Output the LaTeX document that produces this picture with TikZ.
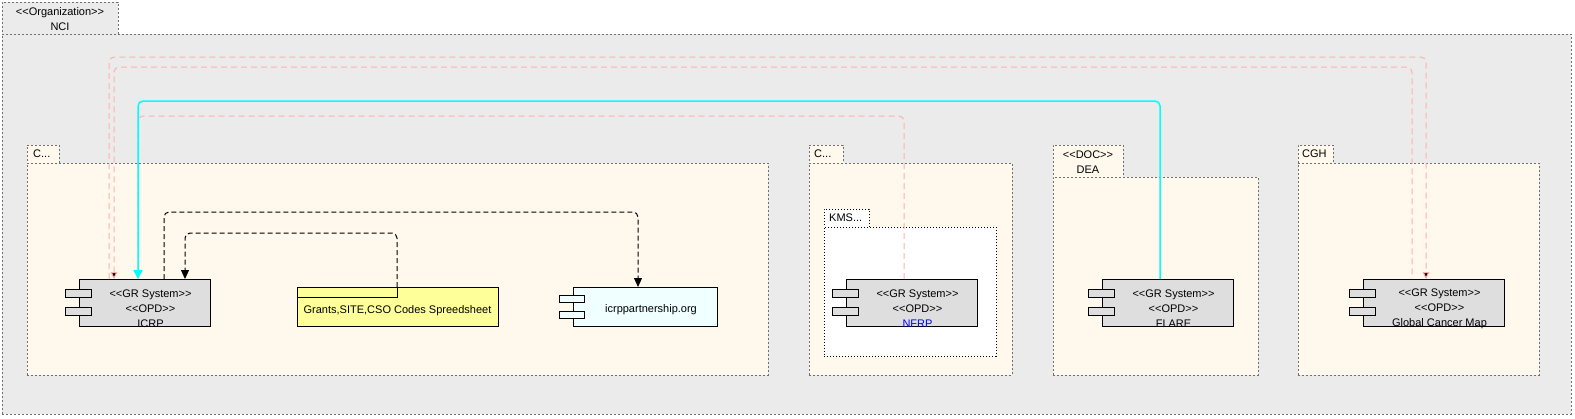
\documentclass[tikz,border=0pt]{standalone}
\usepackage{fontspec}
\setmainfont{Liberation Sans}
\usetikzlibrary{arrows.meta,calc}
\definecolor{ncigray}{HTML}{EBEBEB}
\definecolor{cream}{HTML}{FEF9EC}
\definecolor{dotgray}{HTML}{707070}
\definecolor{compgray}{HTML}{DEDEDE}
\definecolor{pinkl}{HTML}{FFB0B0}
\definecolor{artyellow}{HTML}{FFFF99}
\definecolor{lightcyan}{HTML}{F0FFFF}
\definecolor{aqua}{HTML}{00FFFF}
\newcommand\stereo[1]{<\kern0pt<#1>\kern0pt>}
\newcommand\mycomp[7]{%
  \node[compbody, fill=#7, minimum width=#4pt, minimum height=#5pt] (#1) at (#2,#3) {};
  \node[compbody, fill=#7, minimum width=26pt, minimum height=8.5pt] (#1a) at ($(#1.north west)+(-14,10)$) {};
  \node[compbody, fill=#7, minimum width=26pt, minimum height=8.5pt] (#1b) at ($(#1.north west)+(-14,28)$) {};
  \node[comptext] (#1t) at ($(#1.north west)!0.5!(#1.north east)+(6,30)$) {#6};
}
\tikzset{
  pkg/.style={draw=dotgray, fill=#1, line width=0.9pt, dash pattern=on 2pt off 2pt,
    inner sep=0pt, outer sep=0pt, anchor=north west},
  kmspkg/.style={draw=black, fill=white, line width=1pt, dash pattern=on 1.2pt off 1.8pt,
    inner sep=0pt, outer sep=0pt, anchor=north west},
  compbody/.style={draw=black, line width=1pt, inner sep=0pt, outer sep=0pt, anchor=north west},
  comptext/.style={align=center, inner sep=0pt, font=\fontsize{11}{15}\selectfont},
  tabtext/.style={anchor=west, inner sep=0pt, font=\fontsize{11}{15}\selectfont},
  pinkline/.style={draw=pinkl, line width=1pt, dash pattern=on 6pt off 4pt, rounded corners=5pt},
  pinktip/.tip={Triangle[width=7pt,length=7pt,fill=black]},
  blacktip/.tip={Triangle[width=8pt,length=9pt,fill=black]},
  cyantip/.tip={Triangle[width=9pt,length=9pt,fill=aqua]},
  cyanline/.style={draw=aqua, line width=1.5pt, rounded corners=5pt},
  depline/.style={draw=black, line width=1pt, dash pattern=on 5pt off 3pt, rounded corners=5pt},
}
\begin{document}
\begin{tikzpicture}[x=1pt,y=-1pt]
\useasboundingbox (0,0) rectangle (1575,418);
% NCI
\node[pkg=ncigray, minimum width=116pt, minimum height=32pt] (ncitab) at (2,2) {};
\node[comptext] (ncitext) at ($(ncitab.center)+(0,1)$) {\stereo{Organization}\\NCI};
\node[pkg=ncigray, minimum width=1569pt, minimum height=380pt] (nci) at (2,34) {};
% C... (1)
\node[pkg=cream, minimum width=32pt, minimum height=18pt] (c1tab) at (27,145) {};
\node[tabtext] (c1text) at ($(c1tab.west)+(6,0)$) {C...};
\node[pkg=cream, minimum width=741pt, minimum height=212pt] (c1) at (27,163) {};
% C... (2)
\node[pkg=cream, minimum width=34pt, minimum height=18pt] (c2tab) at (809,145) {};
\node[tabtext] (c2text) at ($(c2tab.west)+(5,0)$) {C...};
\node[pkg=cream, minimum width=203pt, minimum height=212pt] (c2) at (809,163) {};
% KMS
\node[kmspkg, minimum width=45pt, minimum height=18pt] (kmstab) at (824,209) {};
\node[tabtext] (kmstext) at ($(kmstab.west)+(5,0)$) {KMS...};
\node[kmspkg, minimum width=172pt, minimum height=129pt] (kms) at (824,227) {};
% DEA
\node[pkg=cream, minimum width=70pt, minimum height=32pt] (deatab) at (1053,145) {};
\node[comptext] (deatext) at ($(deatab.center)+(0,1)$) {\stereo{DOC}\\DEA};
\node[pkg=cream, minimum width=205pt, minimum height=198pt] (dea) at (1053,177) {};
% CGH
\node[pkg=cream, minimum width=35pt, minimum height=18pt] (cghtab) at (1298,145) {};
\node[tabtext] (cghtext) at ($(cghtab.west)+(4,0)$) {CGH};
\node[pkg=cream, minimum width=241pt, minimum height=212pt] (cgh) at (1298,163) {};
% components
\mycomp{icrp}{79}{279}{131}{47}{\stereo{GR System}\\\stereo{OPD}\\ICRP}{compgray}
\mycomp{nfrp}{846}{279}{131}{47}{\stereo{GR System}\\\stereo{OPD}\\\textcolor{blue}{NFRP}}{compgray}
\mycomp{flare}{1102}{279}{131}{47}{\stereo{GR System}\\\stereo{OPD}\\FLARE}{compgray}
\mycomp{gcm}{1363}{279}{141}{47}{\stereo{GR System}\\\stereo{OPD}\\Global Cancer Map}{compgray}
% icrppartnership
\node[compbody, fill=lightcyan, minimum width=144pt, minimum height=39pt] (icrpp) at (573,287) {};
\node[compbody, fill=lightcyan, minimum width=25pt, minimum height=7pt] (icrppa) at ($(icrpp.north west)+(-14,8)$) {};
\node[compbody, fill=lightcyan, minimum width=25pt, minimum height=7pt] (icrppb) at ($(icrpp.north west)+(-14,24)$) {};
\node[comptext] (icrppt) at ($(icrpp.center)+(6,3)$) {icrppartnership.org};
% Grants artifact
\node[compbody, fill=artyellow, minimum width=201pt, minimum height=39pt] (grants) at (297,287) {};
\node[compbody, minimum width=100pt, minimum height=10pt] (grantstab) at (grants.north west) {};
\node[comptext] (grantst) at ($(grants.center)+(0,4)$) {Grants,SITE,CSO Codes Spreedsheet};
% connectors
\draw[pinkline, -{pinktip}] ($(icrp.north west)+(30,0)$) -- ++(0,-222) -| ($(gcm.north west)+(63,0)$);
\draw[pinkline, {pinktip}-] ($(icrp.north west)+(35,0)$) -- ++(0,-212) -| ($(gcm.north west)+(49,0)$);
\draw[pinkline, -{pinktip}] ($(nfrp.north west)+(58,0)$) -- ++(0,-163) -| ($(icrp.north west)+(59,0)$);
\draw[cyanline, -{cyantip}] ($(flare.north west)+(58,0)$) -- ++(0,-178) -| ($(icrp.north west)+(59,0)$);
\draw[depline, -{blacktip}] ($(icrp.north west)+(85,0)$) -- ++(0,-67) -| ($(icrpp.north west)+(65,0)$);
\draw[depline, -{blacktip}] (grantstab.north east) -- ++(0,-54) -| ($(icrp.north west)+(106,0)$);
\end{tikzpicture}
\end{document}
